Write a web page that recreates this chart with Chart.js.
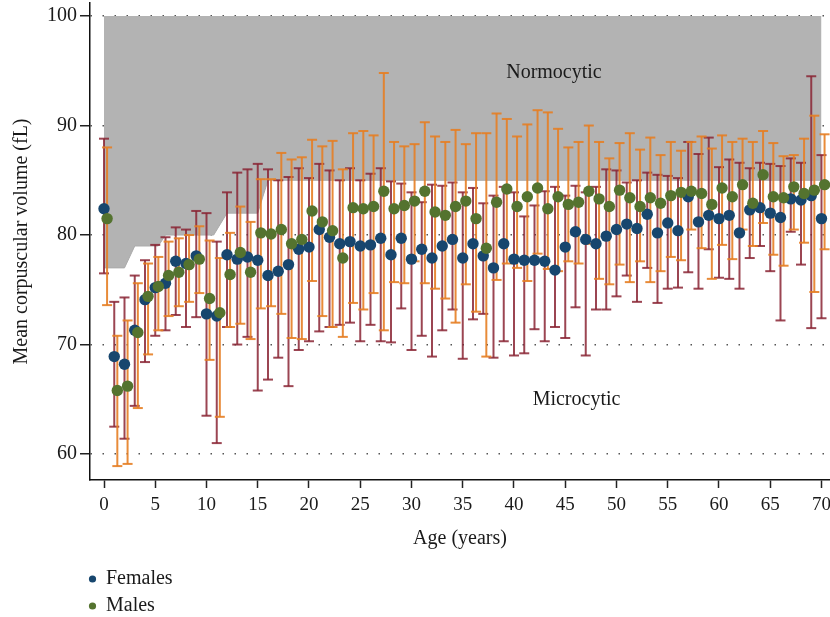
<!DOCTYPE html>
<html>
<head>
<meta charset="utf-8">
<script src="https://cdn.jsdelivr.net/npm/chart.js@4.4.1/dist/chart.umd.min.js"></script>
<style>
  html, body { margin: 0; padding: 0; background: #fff; }
  #wrap { width: 830px; height: 617px; }
</style>
</head>
<body>
<div id="wrap"><canvas id="mcv" width="830" height="617"></canvas></div>
<script>
// age in years, one group per year of age
const ages = [0, 1, 2, 3, 4, 5, 6, 7, 8, 9, 10, 11, 12, 13, 14, 15, 16, 17, 18, 19, 20,
  21, 22, 23, 24, 25, 26, 27, 28, 29, 30, 31, 32, 33, 34, 35, 36, 37, 38, 39, 40,
  41, 42, 43, 44, 45, 46, 47, 48, 49, 50, 51, 52, 53, 54, 55, 56, 57, 58, 59, 60,
  61, 62, 63, 64, 65, 66, 67, 68, 69, 70];

const femaleMean = [82.4, 68.9, 68.2, 71.3, 74.1, 75.2, 75.6, 77.6, 77.4, 78.1, 72.8,
  72.6, 78.2, 77.8, 78.0, 77.7, 76.3, 76.7, 77.3, 78.7, 78.9,
  80.5, 79.8, 79.2, 79.4, 79.0, 79.1, 79.7, 78.2, 79.7, 77.8,
  78.7, 77.9, 79.0, 79.6, 77.9, 79.2, 78.1, 77.0, 79.2, 77.8,
  77.7, 77.7, 77.6, 76.8, 78.9, 80.3, 79.6, 79.2, 79.9, 80.5,
  81.0, 80.6, 81.9, 80.2, 81.1, 80.4, 83.5, 81.2, 81.8, 81.5,
  81.8, 80.2, 82.3, 82.5, 82.0, 81.6, 83.3, 83.2, 83.6, 81.5];
const femaleHigh = [88.8, 73.9, 74.3, 76.3, 77.7, 79.1, 79.8, 80.7, 80.5, 82.2, 82.0,
  79.4, 83.9, 85.7, 86.0, 86.5, 86.0, 85.0, 85.3, 86.1, 85.2,
  86.5, 85.9, 85.0, 86.1, 85.0, 85.6, 86.1, 84.9, 84.7, 83.9,
  83.0, 84.6, 84.5, 84.8, 83.9, 84.3, 82.9, 83.6, 84.4, 83.9,
  81.7, 82.7, 84.0, 84.4, 83.6, 84.5, 83.9, 84.4, 86.0, 85.9,
  84.8, 85.0, 85.7, 85.5, 85.4, 85.2, 88.5, 87.4, 88.9, 86.2,
  86.9, 86.6, 86.1, 86.6, 86.5, 86.3, 87.0, 86.6, 94.5, 87.3];
const femaleLow = [76.5, 62.5, 61.4, 64.4, 68.4, 70.8, 71.3, 72.7, 71.6, 72.5, 63.5,
  61.0, 71.6, 70.0, 70.7, 65.8, 66.8, 68.8, 66.2, 69.5, 70.3,
  71.2, 71.6, 71.8, 72.0, 70.3, 71.8, 70.3, 70.2, 73.3, 69.5,
  70.8, 68.9, 71.3, 73.2, 68.7, 72.3, 72.8, 68.8, 70.3, 69.0,
  69.2, 71.4, 70.3, 71.6, 70.6, 73.4, 69.0, 73.2, 73.2, 74.4,
  76.3, 73.9, 77.0, 73.8, 75.1, 75.2, 76.6, 75.1, 78.7, 76.1,
  76.0, 75.1, 77.9, 79.0, 76.7, 72.2, 80.3, 77.3, 71.5, 72.4];

const maleMean = [81.5, 65.8, 66.2, 71.1, 74.4, 75.3, 76.3, 76.6, 77.3, 77.8, 74.2,
  72.9, 76.4, 78.4, 76.6, 80.2, 80.1, 80.5, 79.2, 79.6, 82.2,
  81.2, 80.4, 77.9, 82.5, 82.4, 82.6, 84.0, 82.4, 82.7, 83.1,
  84.0, 82.1, 81.8, 82.6, 83.1, 81.5, 78.8, 83.0, 84.2, 82.6,
  83.5, 84.3, 82.4, 83.5, 82.8, 83.0, 84.0, 83.3, 82.6, 84.1,
  83.4, 82.6, 83.4, 82.9, 83.6, 83.9, 84.0, 83.8, 82.8, 84.3,
  83.5, 84.6, 82.9, 85.5, 83.5, 83.4, 84.4, 83.8, 84.1, 84.6];
const maleHigh = [88.0, 70.8, 72.2, 75.6, 77.4, 78.0, 79.4, 79.7, 80.0, 80.8, 79.5,
  77.9, 80.2, 82.6, 81.2, 85.1, 85.1, 87.5, 86.9, 87.1, 88.7,
  88.1, 88.6, 86.0, 89.3, 89.5, 89.1, 94.8, 88.5, 88.1, 88.3,
  90.3, 89.0, 88.5, 89.6, 88.3, 89.3, 89.3, 91.1, 90.6, 89.0,
  90.1, 91.4, 91.2, 89.7, 88.0, 88.5, 90.0, 88.5, 87.0, 88.4,
  89.3, 87.8, 88.9, 87.3, 88.5, 87.7, 88.5, 89.0, 87.9, 89.1,
  88.5, 88.8, 88.5, 89.5, 88.4, 87.2, 87.3, 88.8, 90.9, 89.2];
const maleLow = [73.6, 58.9, 59.1, 64.2, 69.1, 71.3, 72.6, 73.5, 73.9, 74.7, 68.6,
  63.4, 71.6, 71.9, 70.5, 73.3, 73.5, 72.8, 70.6, 70.5, 75.8,
  72.6, 71.6, 70.7, 73.8, 73.2, 74.7, 71.3, 75.7, 75.6, 77.6,
  75.6, 75.1, 74.2, 72.0, 75.5, 73.0, 68.9, 75.9, 77.4, 77.0,
  75.8, 78.3, 76.9, 76.7, 77.6, 77.4, 79.2, 76.0, 75.5, 77.3,
  75.7, 77.6, 75.7, 76.7, 78.0, 77.7, 80.5, 78.8, 76.0, 79.1,
  77.8, 80.5, 79.0, 81.1, 78.2, 77.2, 80.5, 79.3, 74.8, 78.7];

// lower limit of the normocytic range by age
const normoAges = [0, 2, 3, 5.3, 6, 10.7, 12, 15, 16, 70];
const normoLower = [77, 77, 79, 79, 80, 80, 82, 82, 85, 85];
const normoUpper = 100;

const xTicks = [0, 5, 10, 15, 20, 25, 30, 35, 40, 45, 50, 55, 60, 65, 70];
const yTicks = [60, 70, 80, 90, 100];

const FONT = "'Liberation Serif', 'Times New Roman', serif";
const TEXT = "#1a1a1a";
const FEMALE_DOT = "#17466e";
const MALE_DOT = "#54732f";
const FEMALE_BAR = "rgba(138, 36, 52, 0.85)";
const MALE_BAR = "rgba(229, 126, 36, 0.9)";
const MALE_DODGE = 0.3;

Chart.defaults.font.family = FONT;
Chart.defaults.font.size = 20;
Chart.defaults.color = TEXT;

function points(xs, ys, dx) {
  return xs.map((x, i) => ({x: x + dx, y: ys[i]}));
}

function ranges(xs, lo, hi, dx) {
  return xs.map((x, i) => ({x: x + dx, y: [lo[i], hi[i]]}));
}

function caps(xs, lo, hi, dx) {
  return points(xs, hi, dx).concat(points(xs, lo, dx));
}

const labelsPlugin = {
  id: "labels",
  afterDatasetsDraw(chart) {
    const {ctx, scales: {x, y}} = chart;
    ctx.save();
    ctx.font = "20px " + FONT;
    ctx.fillStyle = TEXT;
    ctx.textAlign = "center";
    ctx.textBaseline = "middle";
    ctx.fillText("Normocytic", x.getPixelForValue(43.9), y.getPixelForValue(94.85));
    ctx.fillText("Microcytic", x.getPixelForValue(46.1), y.getPixelForValue(65.0));
    ctx.restore();
  },
  afterDraw(chart) {
    // legend under the axis, one entry per line
    const ctx = chart.ctx;
    const entries = chart.data.datasets.filter(d => d.legend);
    ctx.save();
    ctx.font = "20px " + FONT;
    ctx.textAlign = "left";
    ctx.textBaseline = "middle";
    entries.forEach((d, i) => {
      const cy = 579 + i * 27;
      ctx.fillStyle = d.backgroundColor;
      ctx.beginPath();
      ctx.arc(92.5, cy, 3.6, 0, Math.PI * 2);
      ctx.fill();
      ctx.fillStyle = TEXT;
      ctx.fillText(d.label, 106, cy);
    });
    ctx.restore();
  }
};

new Chart(document.getElementById("mcv"), {
  type: "scatter",
  data: {
    datasets: [
      {
        type: "line",
        label: "Normocytic",
        data: points(normoAges, normoLower, 0),
        fill: {value: normoUpper},
        backgroundColor: "#b3b3b3",
        borderColor: "#ababab",
        borderWidth: 1,
        pointRadius: 0,
        tension: 0,
        order: 10
      },
      {
        type: "bar",
        data: ranges(ages, femaleLow, femaleHigh, 0),
        backgroundColor: FEMALE_BAR,
        grouped: false,
        maxBarThickness: 2,
        order: 8
      },
      {
        type: "scatter",
        data: caps(ages, femaleLow, femaleHigh, 0),
        pointStyle: "line",
        pointRadius: 5,
        borderWidth: 2,
        borderColor: FEMALE_BAR,
        order: 8
      },
      {
        type: "bar",
        data: ranges(ages, maleLow, maleHigh, MALE_DODGE),
        backgroundColor: MALE_BAR,
        grouped: false,
        maxBarThickness: 2,
        order: 7
      },
      {
        type: "scatter",
        data: caps(ages, maleLow, maleHigh, MALE_DODGE),
        pointStyle: "line",
        pointRadius: 5,
        borderWidth: 2,
        borderColor: MALE_BAR,
        order: 7
      },
      {
        type: "scatter",
        label: "Females",
        legend: true,
        data: points(ages, femaleMean, 0),
        backgroundColor: FEMALE_DOT,
        borderWidth: 0,
        pointRadius: 5.7,
        order: 2
      },
      {
        type: "scatter",
        label: "Males",
        legend: true,
        data: points(ages, maleMean, MALE_DODGE),
        backgroundColor: MALE_DOT,
        borderWidth: 0,
        pointRadius: 5.7,
        order: 1
      }
    ]
  },
  options: {
    responsive: false,
    animation: false,
    layout: {autoPadding: false, padding: {top: 3, right: 0, bottom: 0, left: 0}},
    plugins: {
      legend: {display: false},
      tooltip: {enabled: false}
    },
    scales: {
      x: {
        type: "linear",
        offset: false,
        min: -1.366,
        max: 70.83,
        afterBuildTicks: s => { s.ticks = xTicks.map(v => ({value: v})); },
        afterFit: s => { s.height = 137; s.paddingLeft = 0; s.paddingRight = 0; },
        ticks: {padding: 6, maxRotation: 0, autoSkip: false, font: {size: 19}},
        grid: {offset: false, drawOnChartArea: false, drawTicks: true, tickLength: 8, tickWidth: 1.5, tickColor: "#222"},
        border: {color: "#111", width: 1.5},
        title: {display: true, text: "Age (years)", padding: {top: 0, bottom: 66}}
      },
      y: {
        type: "linear",
        min: 57.63,
        max: 101.19,
        afterBuildTicks: s => { s.ticks = yTicks.map(v => ({value: v})); },
        afterFit: s => { s.width = 90; s.paddingTop = 0; s.paddingBottom = 0; },
        ticks: {padding: 3},
        grid: {color: "#555", lineWidth: 1.5, tickLength: 10, tickWidth: 1.5, tickColor: "#222", tickBorderDash: []},
        border: {color: "#111", width: 1.5, dash: [1.5, 10.5]},
        title: {display: true, text: "Mean corpuscular volume (fL)", padding: {top: 10, bottom: 0}}
      }
    }
  },
  plugins: [labelsPlugin]
});
</script>
</body>
</html>
